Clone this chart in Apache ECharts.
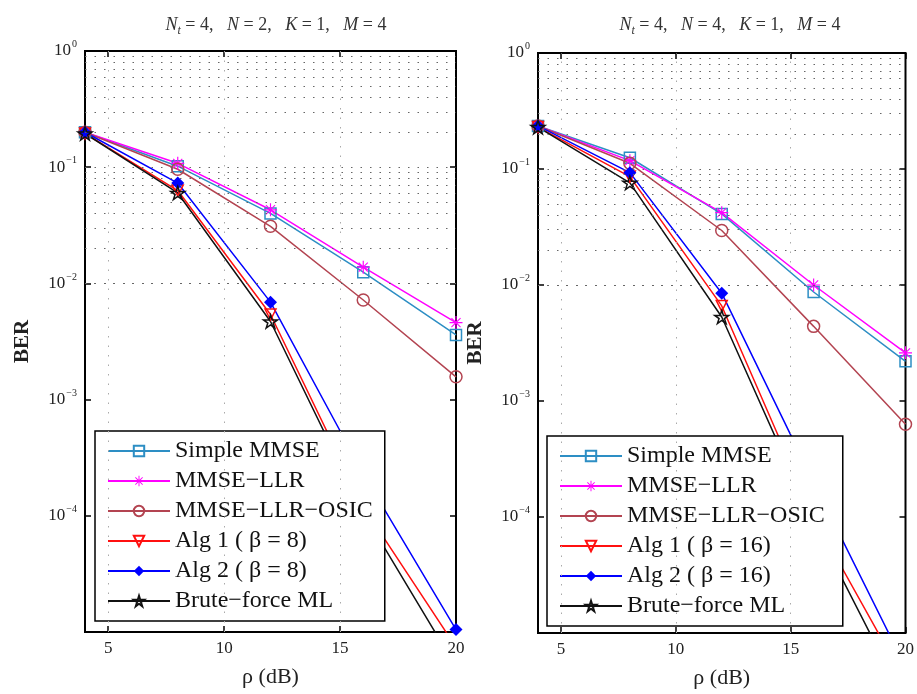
<!DOCTYPE html>
<html>
<head>
<meta charset="utf-8">
<script src="https://cdn.jsdelivr.net/npm/echarts@6/dist/echarts.min.js"></script>
<style>
html, body { margin: 0; padding: 0; background: #fff; }
#draw { width: 917px; height: 694px; }
</style>
</head>
<body>
<div id="draw"></div>
<script>
// x axis: rho in dB
var snr = [4, 8, 12, 16, 20];
var xTicks = [5, 10, 15, 20];
var decades = [1e-5, 1e-4, 1e-3, 1e-2, 1e-1, 1];

var namesLeft = ['Simple MMSE', 'MMSE\u2212LLR', 'MMSE\u2212LLR\u2212OSIC',
  'Alg 1 ( \u03b2 = 8)', 'Alg 2 ( \u03b2 = 8)', 'Brute\u2212force ML'];
var namesRight = ['Simple MMSE ', 'MMSE\u2212LLR ', 'MMSE\u2212LLR\u2212OSIC ',
  'Alg 1 ( \u03b2 = 16)', 'Alg 2 ( \u03b2 = 16)', 'Brute\u2212force ML '];

// left panel: Nt=4, N=2
var simpleL = [0.20, 0.102, 0.040, 0.0125, 0.0036];
var llrL    = [0.20, 0.108, 0.043, 0.0138, 0.0046];
var osicL   = [0.20, 0.096, 0.031, 0.0072, 0.00157];
var alg1L   = [0.195, 0.063, 0.0054, 1.2e-4, 7.4e-6];
var alg2L   = [0.20, 0.073, 0.0069, 2.3e-4, 1.05e-5];
var mlL     = [0.195, 0.060, 0.0047, 1.07e-4, 5e-6];

// right panel: Nt=4, N=4
var simpleR = [0.235, 0.125, 0.041, 0.0087, 0.0022];
var llrR    = [0.235, 0.118, 0.042, 0.0100, 0.0026];
var osicR   = [0.235, 0.112, 0.0295, 0.0044, 0.00063];
var alg1R   = [0.23, 0.086, 0.0066, 1.0e-4, 3.8e-6];
var alg2R   = [0.235, 0.093, 0.0085, 2.0e-4, 5.1e-6];
var mlR     = [0.23, 0.076, 0.0053, 8.9e-5, 2.5e-6];

var minorGrid = [];
for (var d = 0; d < decades.length - 1; d++) {
  for (var m = 2; m <= 9; m++) minorGrid.push(m * decades[d]);
}

var FONT = '"Liberation Serif", "DejaVu Serif", serif';
var STAR = 'path://M0,-10L2.25,-3.09L9.51,-3.09L3.63,1.18L5.88,8.09L0,3.82L-5.88,8.09L-3.63,1.18L-9.51,-3.09L-2.25,-3.09Z';
var ASTER = 'path://M-0.9,-10L0.9,-10L0.9,10L-0.9,10Z M-10,-0.9L10,-0.9L10,0.9L-10,0.9Z ' +
  'M-6.43,-7.57L7.57,6.43L6.43,7.57L-7.57,-6.43Z M7.57,-6.43L-6.43,7.57L-7.57,6.43L6.43,-7.57Z';

var styles = [
  { color: '#2d8ec4', symbol: 'rect', size: 11, filled: false },
  { color: '#ff00ff', symbol: ASTER, size: 13, filled: true },
  { color: '#b34451', symbol: 'circle', size: 12, filled: false },
  { color: '#ff1010', symbol: 'triangle', size: 11, filled: false, rotate: 180 },
  { color: '#0000ff', symbol: 'diamond', size: 13, filled: true },
  { color: '#111111', symbol: STAR, size: 14, filled: false }
];

function toPairs(ys) {
  return snr.map(function (x, i) { return [x, ys[i]]; });
}

function makeSeries(name, ys, st, gi) {
  return {
    type: 'line',
    name: name,
    xAxisIndex: gi,
    yAxisIndex: gi,
    data: toPairs(ys),
    symbol: st.symbol,
    symbolSize: st.size,
    symbolRotate: st.rotate || 0,
    symbolKeepAspect: true,
    showAllSymbol: true,
    clip: true,
    z: 3,
    lineStyle: { color: st.color, width: 1.5 },
    itemStyle: {
      color: st.filled ? st.color : 'rgba(255,255,255,0)',
      borderColor: st.color,
      borderWidth: st.filled ? 0 : 1.5
    },
    emphasis: { disabled: true }
  };
}

function gridSeries(gi) {
  var lines = [];
  minorGrid.concat(decades.slice(1, 5)).forEach(function (v) {
    lines.push({ yAxis: v });
  });
  xTicks.slice(0, 3).forEach(function (v) {
    lines.push({ xAxis: v, lineStyle: { color: '#aaa' } });
  });
  return {
    type: 'line',
    name: 'grid' + gi,
    xAxisIndex: gi,
    yAxisIndex: gi,
    data: [],
    silent: true,
    z: 1,
    markLine: {
      silent: true,
      animation: false,
      symbol: ['none', 'none'],
      label: { show: false },
      lineStyle: { color: '#666', type: [1.5, 8], width: 1 },
      data: lines
    }
  };
}

function xAx(gi, bottom) {
  return {
    type: 'value',
    gridIndex: gi,
    position: bottom ? 'bottom' : 'top',
    min: 4,
    max: 20,
    name: bottom ? '\u03c1 (dB)' : '',
    nameLocation: 'middle',
    nameGap: 34,
    nameTextStyle: { fontFamily: FONT, fontSize: 22, color: '#222' },
    axisLine: { show: false },
    axisTick: { show: true, inside: true, length: 6, customValues: xTicks,
      lineStyle: { color: '#000', width: 1.5 } },
    axisLabel: { show: bottom, customValues: xTicks, margin: 8,
      fontFamily: FONT, fontSize: 17, color: '#222' },
    splitLine: { show: false }
  };
}

function yAx(gi, left, gap) {
  return {
    type: 'log',
    logBase: 10,
    gridIndex: gi,
    position: left ? 'left' : 'right',
    min: 1e-5,
    max: 1,
    name: left ? 'BER' : '',
    nameLocation: 'middle',
    nameGap: gap,
    nameTextStyle: { fontFamily: FONT, fontSize: 21, fontWeight: 'bold', color: '#222' },
    axisLine: { show: false },
    axisTick: { show: true, inside: true, length: 6,
      lineStyle: { color: '#000', width: 1.5 } },
    axisLabel: {
      show: left,
      margin: 8,
      formatter: function (v) {
        var e = Math.round(Math.log(v) / Math.LN10);
        if (e <= -5) return '';
        return '{b|10}{s|' + (e < 0 ? '\u2212' + (-e) : e) + '}';
      },
      rich: {
        b: { fontFamily: FONT, fontSize: 17, color: '#222' },
        s: { fontFamily: FONT, fontSize: 10, color: '#222', padding: [0, 0, 13, 1] }
      }
    },
    splitLine: { show: false }
  };
}

function makeLegend(names, left, top) {
  return {
    data: names,
    orient: 'vertical',
    left: left,
    top: top,
    itemWidth: 62,
    itemHeight: 13,
    itemGap: 6,
    padding: [8, 12, 8, 12],
    backgroundColor: '#fff',
    borderColor: '#000',
    borderWidth: 1.5,
    selectedMode: false,
    textStyle: { fontFamily: FONT, fontSize: 24, lineHeight: 23, color: '#111' }
  };
}

function makeTitle(nVal, centerX) {
  return {
    text: '{i|N}{sub|t}{n| = 4,   }{i|N}{n| = ' + nVal + ',   }{i|K}{n| = 1,   }{i|M}{n| = 4}',
    left: centerX,
    top: 9,
    textAlign: 'center',
    textStyle: {
      fontWeight: 'normal',
      rich: {
        i: { fontFamily: FONT, fontStyle: 'italic', fontWeight: 'normal', fontSize: 18, color: '#333' },
        n: { fontFamily: FONT, fontWeight: 'normal', fontSize: 18, color: '#333' },
        sub: { fontFamily: FONT, fontStyle: 'italic', fontWeight: 'normal', fontSize: 12, color: '#333', padding: [11, 0, 0, 0] }
      }
    }
  };
}

var chart = echarts.init(document.getElementById('draw'));

var series = [gridSeries(0), gridSeries(1)];
var left = [simpleL, llrL, osicL, alg1L, alg2L, mlL];
var right = [simpleR, llrR, osicR, alg1R, alg2R, mlR];
for (var i = 0; i < 6; i++) {
  series.push(makeSeries(namesLeft[i], left[i], styles[i], 0));
}
for (var j = 0; j < 6; j++) {
  series.push(makeSeries(namesRight[j], right[j], styles[j], 1));
}

var option = {
  animation: false,
  backgroundColor: '#fff',
  title: [makeTitle(2, 271), makeTitle(4, 725)],
  legend: [makeLegend(namesLeft, 95, 431), makeLegend(namesRight, 547, 436)],
  grid: [
    { left: 85, top: 51, width: 371, height: 581, show: true,
      borderColor: '#000', borderWidth: 2, backgroundColor: '#fff' },
    { left: 538, top: 53, width: 373, height: 582, show: true,
      borderColor: '#000', borderWidth: 2, backgroundColor: '#fff' }
  ],
  xAxis: [xAx(0, true), xAx(1, true), xAx(0, false), xAx(1, false)],
  yAxis: [yAx(0, true, 52), yAx(1, true, 52), yAx(0, false, 0), yAx(1, false, 0)],
  series: series
};

chart.setOption(option);
</script>
</body>
</html>
